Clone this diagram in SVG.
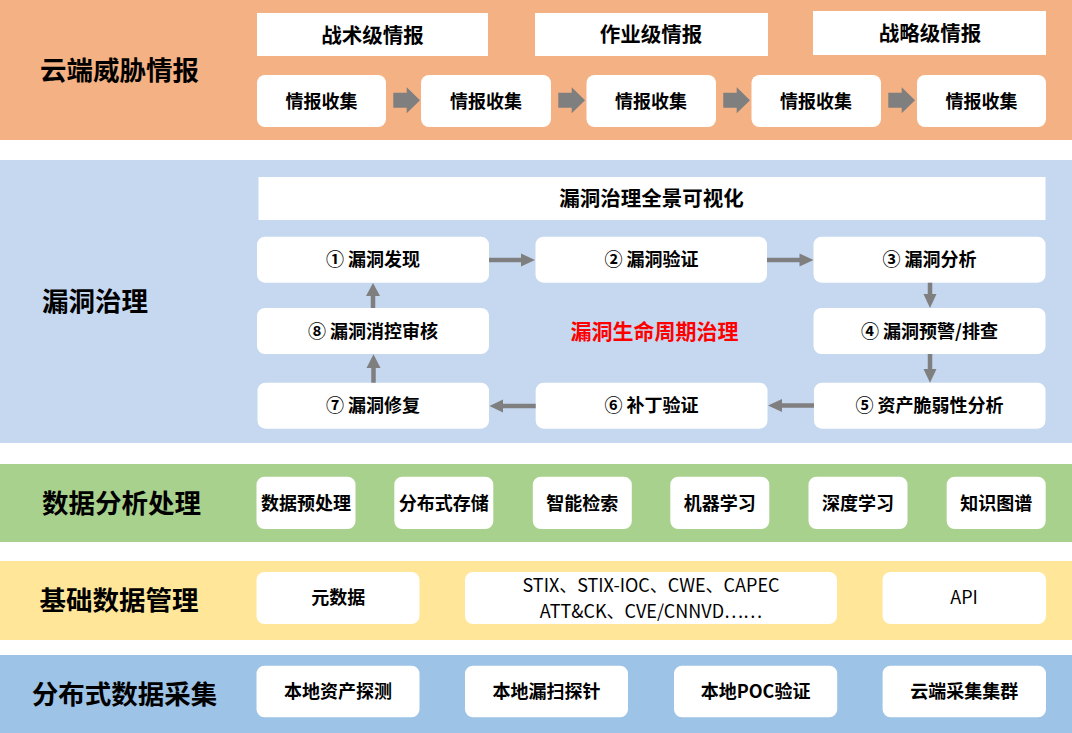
<svg xmlns="http://www.w3.org/2000/svg" xmlns:xlink="http://www.w3.org/1999/xlink" width="1072" height="733" viewBox="0 0 1072 733">
<style>
text{font-family:"Noto Sans CJK SC","Noto Sans",sans-serif;fill:#000;dominant-baseline:central}
.lbl{font-size:26.5px;font-weight:bold}
.hd{font-size:20.5px;font-weight:bold;text-anchor:middle}
.bx{font-size:18px;font-weight:bold;text-anchor:middle}
.rg{font-size:18px;font-weight:normal;text-anchor:middle}
.red{font-size:21px;font-weight:bold;text-anchor:middle;fill:#FF0000}
.w{fill:#FFFFFF}
.conn line{stroke:#7F7F7F;stroke-width:4.5}
.conn polygon,.conn use{fill:#7F7F7F}
</style>
<defs>
<path id="blk" fill="#7F7F7F" d="M393.3,92.7 L406.7,92.7 L406.7,87.3 L420,100.3 L406.7,113.3 L406.7,107.7 L393.3,107.7 Z"/>
</defs>
<g id="bands">
<rect x="0" y="0" width="1072" height="140" fill="#F4B183"/>
<rect x="0" y="160" width="1072" height="283" fill="#C5D8F0"/>
<rect x="0" y="464" width="1072" height="78" fill="#A9D18E"/>
<rect x="0" y="561" width="1072" height="79" fill="#FFE699"/>
<rect x="0" y="655" width="1072" height="78" fill="#9DC3E6"/>
</g>
<g id="labels">
<text class="lbl" x="40" y="68.5">云端威胁情报</text>
<text class="lbl" x="42" y="299.2">漏洞治理</text>
<text class="lbl" x="42" y="501.2">数据分析处理</text>
<text class="lbl" x="39.6" y="598.5">基础数据管理</text>
<text class="lbl" x="31.7" y="692.8">分布式数据采集</text>
</g>
<g id="intel-levels">
<g id="tactical"><rect class="w" x="257" y="13" width="231" height="43"/><text class="hd" x="372.5" y="33.5">战术级情报</text></g>
<g id="operational"><rect class="w" x="535" y="13" width="233" height="43"/><text class="hd" x="651" y="33">作业级情报</text></g>
<g id="strategic"><rect class="w" x="813" y="11" width="233" height="44"/><text class="hd" x="930" y="32">战略级情报</text></g>
</g>
<g id="intel-collect">
<g id="c1"><rect class="w" x="257" y="75" width="129" height="52" rx="8"/><text class="bx" x="321.5" y="99.5">情报收集</text></g>
<g id="c2"><rect class="w" x="421" y="75" width="130" height="52" rx="8"/><text class="bx" x="486" y="99.5">情报收集</text></g>
<g id="c3"><rect class="w" x="586.5" y="75" width="129.5" height="52" rx="8"/><text class="bx" x="651" y="99.5">情报收集</text></g>
<g id="c4"><rect class="w" x="751.5" y="75" width="129.5" height="52" rx="8"/><text class="bx" x="816" y="99.5">情报收集</text></g>
<g id="c5"><rect class="w" x="917" y="75" width="129" height="52" rx="8"/><text class="bx" x="981.5" y="99.5">情报收集</text></g>
</g>
<g id="vuln">
<g id="panorama"><rect class="w" x="258.5" y="177" width="787" height="43"/><text class="hd" x="651.6" y="196.5">漏洞治理全景可视化</text></g>
<g id="s1"><rect class="w" x="257" y="236.7" width="232" height="46" rx="8"/><text class="bx" x="373" y="258.2">① 漏洞发现</text></g>
<g id="s2"><rect class="w" x="535.5" y="236.7" width="231.5" height="46" rx="8"/><text class="bx" x="651.5" y="258.2">② 漏洞验证</text></g>
<g id="s3"><rect class="w" x="813.5" y="236.7" width="232" height="46" rx="8"/><text class="bx" x="929.5" y="258.2">③ 漏洞分析</text></g>
<g id="s4"><rect class="w" x="813.5" y="308" width="232" height="46" rx="8"/><text class="bx" x="929.5" y="329.5">④ 漏洞预警/排查</text></g>
<g id="s5"><rect class="w" x="814" y="382.7" width="231.5" height="46" rx="8"/><text class="bx" x="929.5" y="404.2">⑤ 资产脆弱性分析</text></g>
<g id="s6"><rect class="w" x="535.7" y="382.7" width="231.8" height="46" rx="8"/><text class="bx" x="651.5" y="404.2">⑥ 补丁验证</text></g>
<g id="s7"><rect class="w" x="257.5" y="382.7" width="231.5" height="46" rx="8"/><text class="bx" x="373" y="404.2">⑦ 漏洞修复</text></g>
<g id="s8"><rect class="w" x="257" y="308" width="232" height="46" rx="8"/><text class="bx" x="373" y="329.5">⑧ 漏洞消控审核</text></g>
<g id="lifecycle"><text class="red" x="654.5" y="329.5">漏洞生命周期治理</text></g>
</g>
<g id="analysis">
<g id="a1"><rect class="w" x="256.5" y="476.7" width="99" height="52.3" rx="8"/><text class="bx" x="306" y="501.5">数据预处理</text></g>
<g id="a2"><rect class="w" x="394.3" y="476.7" width="99" height="52.3" rx="8"/><text class="bx" x="443.8" y="501.5">分布式存储</text></g>
<g id="a3"><rect class="w" x="532.8" y="476.7" width="99" height="52.3" rx="8"/><text class="bx" x="582.3" y="501.5">智能检索</text></g>
<g id="a4"><rect class="w" x="670.3" y="476.7" width="99" height="52.3" rx="8"/><text class="bx" x="719.8" y="501.5">机器学习</text></g>
<g id="a5"><rect class="w" x="808.5" y="476.7" width="99" height="52.3" rx="8"/><text class="bx" x="858" y="501.5">深度学习</text></g>
<g id="a6"><rect class="w" x="946.7" y="476.7" width="99" height="52.3" rx="8"/><text class="bx" x="996.2" y="501.5">知识图谱</text></g>
</g>
<g id="basedata">
<g id="b1"><rect class="w" x="256.5" y="572" width="163" height="52" rx="8"/><text class="bx" x="338.3" y="596.2">元数据</text></g>
<g id="b2"><rect class="w" x="465" y="572" width="372" height="52" rx="8"/><text class="rg" x="651" y="584.2">STIX、STIX-IOC、CWE、CAPEC</text><text class="rg" x="651" y="610.2">ATT&amp;CK、CVE/CNNVD……</text></g>
<g id="b3"><rect class="w" x="882.6" y="572" width="163.4" height="52" rx="8"/><text class="rg" x="964" y="596.2">API</text></g>
</g>
<g id="collect">
<g id="d1"><rect class="w" x="256.5" y="665.7" width="163" height="51.6" rx="8"/><text class="bx" x="338" y="690.1">本地资产探测</text></g>
<g id="d2"><rect class="w" x="465" y="665.7" width="163" height="51.6" rx="8"/><text class="bx" x="546.5" y="690.1">本地漏扫探针</text></g>
<g id="d3"><rect class="w" x="674" y="665.7" width="163.2" height="51.6" rx="8"/><text class="bx" x="755.6" y="690.1">本地POC验证</text></g>
<g id="d4"><rect class="w" x="882.6" y="665.7" width="163.4" height="51.6" rx="8"/><text class="bx" x="964.3" y="690.1">云端采集集群</text></g>
</g>
<g id="connectors" class="conn">
<use xlink:href="#blk"/>
<use xlink:href="#blk" transform="translate(165,0)"/>
<use xlink:href="#blk" transform="translate(330,0)"/>
<use xlink:href="#blk" transform="translate(495,0)"/>
<line x1="489" y1="260" x2="522" y2="260"/><polygon points="521,253.5 535,260 521,266.5"/>
<line x1="767" y1="260" x2="800" y2="260"/><polygon points="799.5,253.5 813.5,260 799.5,266.5"/>
<line x1="930" y1="282.7" x2="930" y2="295"/><polygon points="923.5,294 930,308 936.5,294"/>
<line x1="930" y1="354" x2="930" y2="370"/><polygon points="923.5,369 930,382.7 936.5,369"/>
<line x1="814" y1="405.5" x2="781" y2="405.5"/><polygon points="782,399 768,405.5 782,412"/>
<line x1="535.7" y1="406" x2="502" y2="406"/><polygon points="503,399.5 489.5,406 503,412.5"/>
<line x1="373.5" y1="382.7" x2="373.5" y2="367"/><polygon points="366.5,368 373.5,354.3 380.5,368"/>
<line x1="373" y1="308" x2="373" y2="295"/><polygon points="366,296 373,283 380,296"/>
</g>
</svg>
